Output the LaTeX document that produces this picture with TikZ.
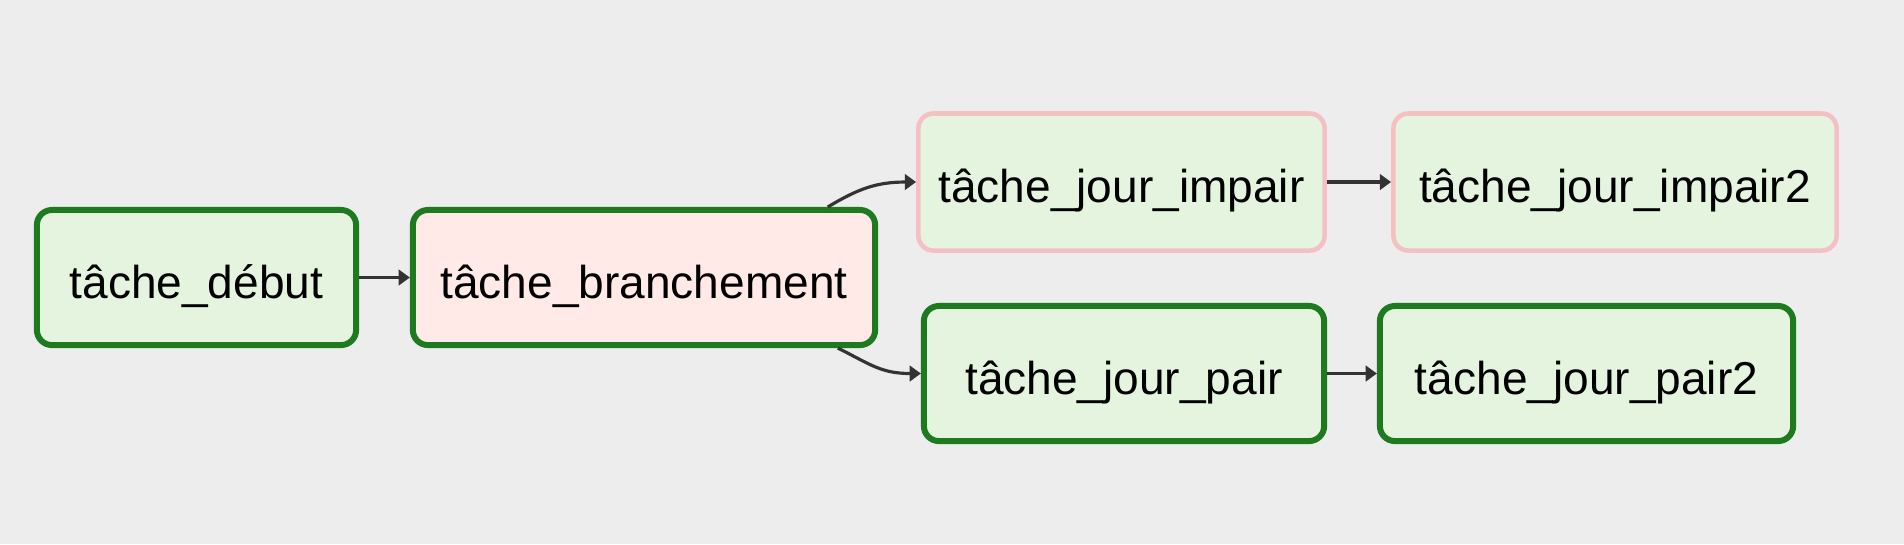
\documentclass[tikz,border=0pt]{standalone}
\usepackage{fontspec}
\setmainfont{Liberation Sans}
\usetikzlibrary{arrows.meta}
\definecolor{bg}{HTML}{EDEDED}
\definecolor{gfill}{HTML}{E4F4DF}
\definecolor{gline}{HTML}{1E7A1E}
\definecolor{pfill}{HTML}{FFEAE7}
\definecolor{pline}{HTML}{F5C0C4}
\definecolor{arr}{HTML}{333333}
\begin{document}
\begin{tikzpicture}[x=0.01cm,y=-0.01cm,
  task/.style={rounded corners=0.15cm, inner sep=0pt, text height=0.49cm, text depth=0.08cm,
    font=\fontsize{13.1pt}{15pt}\selectfont, text=black},
  okbox/.style={task, draw=gline, line width=1.7pt, fill=gfill},
  brbox/.style={task, draw=gline, line width=1.7pt, fill=pfill},
  skipbox/.style={task, draw=pline, line width=1.3pt, fill=gfill},
  conn/.style={draw=arr, line width=0.9pt, -{Triangle[length=3.2pt,width=4.4pt]}}]
\fill[bg] (0,0) rectangle (1904,544);
\useasboundingbox (0,0) rectangle (1904,544);

\node[okbox, minimum width=3.19cm, minimum height=1.35cm] (debut) at (196.5,277.5) {tâche\_début};
\node[brbox, minimum width=4.62cm, minimum height=1.35cm] (branch) at (644,277.5) {tâche\_branchement};
\node[skipbox, minimum width=4.06cm, minimum height=1.37cm] (impair) at (1121.5,182) {tâche\_jour\_impair};
\node[skipbox, minimum width=4.43cm, minimum height=1.37cm] (impair2) at (1615,182) {tâche\_jour\_impair2};
\node[okbox, minimum width=4.00cm, minimum height=1.35cm] (pair) at (1124,373.5) {tâche\_jour\_pair};
\node[okbox, minimum width=4.13cm, minimum height=1.35cm] (pair2) at (1586.5,373.5) {tâche\_jour\_pair2};

\draw[conn] (debut) -- (branch);
\draw[conn] (impair) -- (impair2);
\draw[conn] (pair) -- (pair2);
\draw[conn] (branch.21) .. controls +(30,-18) and +(-40,0) .. (impair.west);
\draw[conn] (branch.-20.5) .. controls +(32,16) and +(-40,0) .. (pair.west);
\end{tikzpicture}
\end{document}
